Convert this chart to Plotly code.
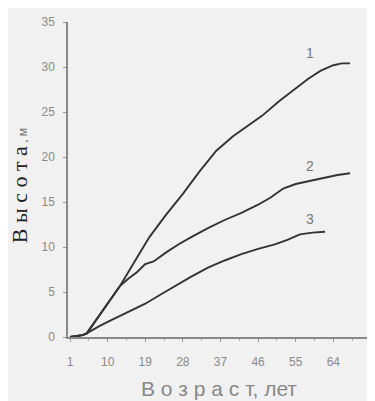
import plotly.graph_objects as go

# Data
age1 = [1, 4, 5, 9, 13, 17, 20, 24, 28, 32, 36, 40, 43, 47, 51, 54, 58, 61, 64, 66, 68]
h1 = [0.0, 0.2, 0.4, 3.1, 5.7, 8.8, 11.1, 13.6, 15.9, 18.4, 20.7, 22.3, 23.3, 24.6, 26.2, 27.3, 28.7, 29.6, 30.2, 30.4, 30.4]

age2 = [1, 4, 5, 9, 13, 15, 17, 19, 21, 24, 27, 30, 34, 38, 42, 46, 49, 52, 55, 58, 62, 65, 68]
h2 = [0.0, 0.2, 0.4, 3.1, 5.7, 6.5, 7.2, 8.1, 8.4, 9.4, 10.3, 11.1, 12.1, 13.0, 13.8, 14.7, 15.5, 16.5, 17.0, 17.3, 17.7, 18.0, 18.2]

age3 = [1, 4, 5, 8, 11, 15, 19, 23, 27, 30, 34, 38, 42, 46, 50, 53, 56, 59, 62]
h3 = [0.0, 0.2, 0.4, 1.2, 1.9, 2.8, 3.7, 4.8, 5.9, 6.7, 7.7, 8.5, 9.2, 9.8, 10.3, 10.8, 11.4, 11.6, 11.7]

x_ticks = [1, 10, 19, 28, 37, 46, 55, 64]
y_ticks = [0, 5, 10, 15, 20, 25, 30, 35]
curve_labels = ["1", "2", "3"]
label_pos_x = [58.5, 58.5, 58.5]
label_pos_y = [31.6, 19.0, 13.1]

fig = go.Figure()
for ax, hy in [(age1, h1), (age2, h2), (age3, h3)]:
    fig.add_trace(go.Scatter(x=ax, y=hy, mode="lines",
                             line=dict(color="#333333", width=1.9),
                             showlegend=False, hoverinfo="skip"))

for t, lx, ly in zip(curve_labels, label_pos_x, label_pos_y):
    fig.add_annotation(x=lx, y=ly, text=t, showarrow=False,
                       font=dict(family="Liberation Sans", size=14, color="#777"))

gray = "#8a8a8a"
fig.update_layout(
    width=375, height=401,
    margin=dict(l=60, r=8, t=14, b=72, autoexpand=False),
    paper_bgcolor="#f1f1f1", plot_bgcolor="#f1f1f1",
    xaxis=dict(range=[0.52, 73.96], tickvals=x_ticks, ticktext=[str(v) for v in x_ticks],
               automargin=False,
               showgrid=False, zeroline=False, showline=True, linecolor="#888", linewidth=1.5,
               ticks="outside", ticklen=3, tickcolor="#999",
               minor=dict(ticks="outside", ticklen=2, tickcolor="#aaa", dtick=4.5, tick0=1),
               tickfont=dict(family="Liberation Sans", size=12, color=gray),
               ticklabelstandoff=10),
    yaxis=dict(range=[0, 35], tickvals=y_ticks, showgrid=False, zeroline=False,
               automargin=False,
               showline=True, linecolor="#888", linewidth=1.5,
               ticks="outside", ticklen=3, tickcolor="#999",
               tickfont=dict(family="Liberation Sans", size=12, color=gray),
               ticklabelstandoff=6),
)

fig.add_annotation(xref="paper", yref="paper", x=0.493, y=-0.162, yanchor="middle",
                   text="В о з р а с т, лет", showarrow=False, borderpad=0,
                   font=dict(family="Liberation Sans", size=21, color="#888"))
fig.add_annotation(xref="paper", x=-0.158, xanchor="center", yref="y", y=16.8,
                   textangle=-90, showarrow=False, borderpad=0,
                   text="<span style='font-family:Liberation Serif;font-size:22px;color:#222'>В ы с о т а</span>"
                        "<span style='font-family:Liberation Sans;font-size:12px;color:#777'> , м</span>")

fig.write_html("out.html")
